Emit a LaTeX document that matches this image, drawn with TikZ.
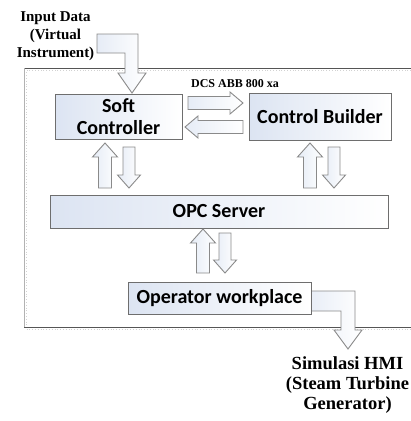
\documentclass[tikz,border=0pt]{standalone}
\usepackage{fontspec}
\setmainfont{Liberation Serif}
\newfontfamily\boxfont{Carlito}
\definecolor{boxedge}{HTML}{6E6E6E}
\definecolor{arredge}{HTML}{8A8A8A}
\definecolor{boxblue}{HTML}{DCE4F2}
\definecolor{arrblue}{HTML}{E6ECF6}
\definecolor{frameline}{HTML}{555555}
\tikzset{
  box/.style={draw=boxedge, line width=0.9pt, inner sep=0pt, align=center,
    font=\boxfont\bfseries\fontsize{20}{22}\selectfont,
    left color=boxblue, right color=white},
  barrow/.style={draw=arredge, line width=0.9pt, line join=miter,
    left color=arrblue, right color=white},
  lbl/.style={font=\bfseries\fontsize{15}{18}\selectfont, align=center, inner sep=0pt},
  frame/.style={draw=frameline, line width=1pt},
}
\begin{document}
\begin{tikzpicture}[x=1pt,y=-1pt]
\useasboundingbox (0,0) rectangle (411,421);
% outer frame (open on the right)
\draw[gray!35, line width=0.8pt, dotted] (411,70.5) -- (26.5,70.5) -- (26.5,324.5);
\draw[gray!35, line width=0.8pt, dotted] (26.5,329.5) -- (411,329.5);
\draw[frame] (411,68) -- (24,68);
\draw[draw=gray!60, line width=1pt] (24,68) -- (24,327);
\draw[frame] (24,327) -- (411,327);

% bent arrows (drawn before boxes)
\draw[barrow] (97,34) -- (138,34) -- (138,73) -- (146,73) -- (132,93) -- (118,73) -- (125,73) -- (125,53) -- (97,53) -- cycle;
\draw[barrow] (305,291) -- (355,291) -- (355,330) -- (362,330) -- (348,349) -- (334,330) -- (341,330) -- (341,311) -- (305,311) -- cycle;

% boxes
\node[box, minimum width=127pt, minimum height=45pt] (sc) at (118.5,116.5) {Soft\\Controller};
\node[box, minimum width=142pt, minimum height=47pt] (cb) at (320,116.5) {Control Builder};
\node[box, minimum width=338pt, minimum height=33pt] (opc) at (219,211.5) {OPC Server};
\node[box, minimum width=183pt, minimum height=32pt] (ow) at (219.5,298) {Operator workplace};

% labels
\node[lbl] (in) at (55.5,36) {Input Data\\(Virtual\\Instrument)};
\node[lbl, font=\bfseries\fontsize{12}{14}\selectfont] (dcs) at (235,84) {DCS ABB 800 xa};
\node[lbl, font=\bfseries\fontsize{18.5}{20}\selectfont] (hmi) at (347.5,385) {Simulasi HMI\\(Steam Turbine\\Generator)};

% horizontal arrows between Soft Controller and Control Builder
\draw[barrow] (188,96.5) -- (230,96.5) -- (230,92) -- (243,103) -- (230,114) -- (230,109.5) -- (188,109.5) -- cycle;
\draw[barrow] (243,120.5) -- (198,120.5) -- (198,116) -- (185,127) -- (198,138) -- (198,133.5) -- (243,133.5) -- cycle;

% vertical arrow pairs
% up arrow: center x, tail y, tip y
\foreach \cx/\ty/\py in {105/188/143, 310/188/143, 203/273/229}{
  \draw[barrow] (\cx-6.5,\ty) -- (\cx-6.5,\py+14) -- (\cx-12.5,\py+14) -- (\cx,\py) -- (\cx+12.5,\py+14) -- (\cx+6.5,\py+14) -- (\cx+6.5,\ty) -- cycle;
}
% down arrow: center x, top y, tip y
\foreach \cx/\ty/\py in {129/147/188, 334/147/188, 225/233/273}{
  \draw[barrow] (\cx-6,\ty) -- (\cx-6,\py-13) -- (\cx-11.5,\py-13) -- (\cx,\py) -- (\cx+11.5,\py-13) -- (\cx+6,\py-13) -- (\cx+6,\ty) -- cycle;
}
\end{tikzpicture}
\end{document}
